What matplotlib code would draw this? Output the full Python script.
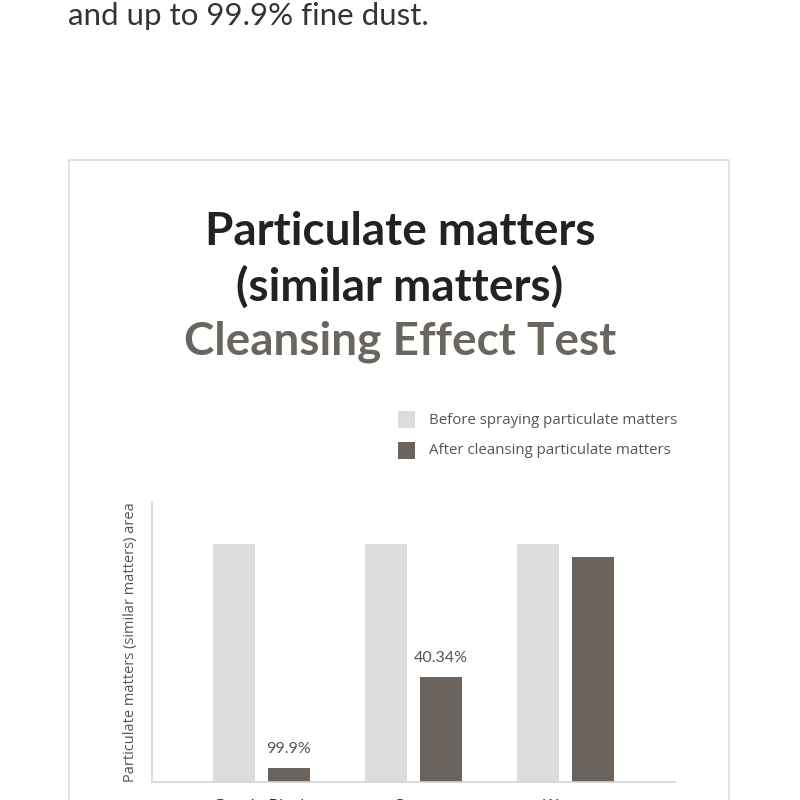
import matplotlib.pyplot as plt
import matplotlib.patches as patches
import numpy as np

# data
categories = ['Gentle Black', 'Soap', 'Water']
before_values = [100, 100, 100]
after_values = [6, 44, 94.5]
after_labels = ['99.9%', '40.34%', '']

light = '#dcdcdc'
dark = '#6b645e'
text_gray = '#555555'

fig = plt.figure(figsize=(8, 8), dpi=100)
fig.patch.set_facecolor('white')

# intro sentence cut off at the top
fig.text(68 / 800, 1 - 25 / 800, 'and up to 99.9% fine dust.', fontsize=22.5,
         family='Lato', weight='normal', color='#333333', ha='left', va='baseline')

# outer card frame
frame = patches.Rectangle((69 / 800, -0.05), 660 / 800, 1 - 160 / 800 + 0.05,
                          transform=fig.transFigure, fill=False,
                          edgecolor='#dedede', linewidth=1.2)
fig.patches.append(frame)

# title block
fig.text(0.5, 1 - 232 / 800, 'Particulate matters', fontsize=33, family='Lato',
         weight='bold', color='#222222', ha='center', va='center')
fig.text(0.5, 1 - 287 / 800, '(similar matters)', fontsize=33, family='Lato',
         weight='bold', color='#222222', ha='center', va='center')
fig.text(0.5, 1 - 342 / 800, 'Cleansing Effect Test', fontsize=33, family='Lato',
         weight='bold', color='#6b6560', ha='center', va='center')

# legend drawn by hand
legend_items = [('Before spraying particulate matters', light),
                ('After cleansing particulate matters', dark)]
for i, (label, color) in enumerate(legend_items):
    yc = 1 - (419 + 31 * i) / 800
    sq = patches.Rectangle((398 / 800, yc - 8.5 / 800), 17 / 800, 17 / 800,
                           transform=fig.transFigure, facecolor=color, edgecolor='none')
    fig.patches.append(sq)
    fig.text(429 / 800, yc - 1 / 800, label, fontsize=10.8, family='Open Sans',
             color=text_gray, ha='left', va='center')

# chart area
ax = fig.add_axes([152 / 800, 18 / 800, 523 / 800, 280 / 800])
x = np.arange(len(categories))
width = 0.276
offset = 0.181
ax.bar(x - offset, before_values, width, color=light)
bars = ax.bar(x + offset, after_values, width, color=dark)
for b, lab in zip(bars, after_labels):
    if lab:
        ax.text(b.get_x() + b.get_width() / 2, b.get_height() + 5, lab,
                ha='center', va='bottom', fontsize=11.5, family='Lato',
                color=text_gray)

ax.set_xlim(-0.72, 2.72)
ax.set_ylim(0, 117.6)
ax.set_xticks(x)
ax.set_xticklabels(categories, fontsize=12, family='Open Sans', color='#333333')
ax.tick_params(axis='x', length=0, pad=12)
ax.set_yticks([])
ax.set_ylabel('Particulate matters (similar matters) area', fontsize=10.5,
              family='Open Sans', color=text_gray, labelpad=10)
for s in ['top', 'right']:
    ax.spines[s].set_visible(False)
for s in ['left', 'bottom']:
    ax.spines[s].set_color('#d4d4d4')
    ax.spines[s].set_linewidth(1.2)

plt.savefig('out.png', dpi=100)
